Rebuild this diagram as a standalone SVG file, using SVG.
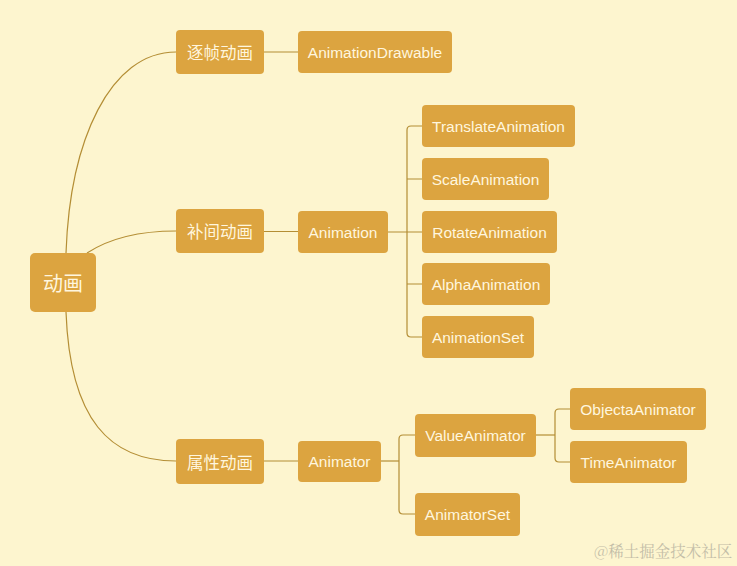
<svg xmlns="http://www.w3.org/2000/svg" width="737" height="566" viewBox="0 0 737 566">
<style>
.bg{fill:#FDF5CF}
.box{fill:#DCA440}
.t{fill:#FFF6DE;font-family:"Liberation Sans","Noto Sans CJK SC",sans-serif;font-size:15.5px;text-anchor:middle;dominant-baseline:central}
.cn{fill:#FFF6DE;font-family:"Noto Sans CJK SC",sans-serif;font-size:16.5px;text-anchor:middle;dominant-baseline:central}
.c{fill:none;stroke:#B48E35;stroke-width:1.2}
.wm{fill:#C4BEA8;font-family:"Noto Serif CJK SC","Noto Sans CJK SC",serif;font-size:15.5px}
</style>
<rect class="bg" x="0" y="0" width="737" height="566"/>
<g id="connectors">
<path class="c" d="M66,253 C70,140 110,52 176,52"/>
<path class="c" d="M87,253 C110,238 140,231 176,231"/>
<path class="c" d="M66,312 C70,420 110,461 176,461"/>
<path class="c" d="M264,52 H298"/>
<path class="c" d="M264,231.5 H298"/>
<path class="c" d="M388,232 H422"/>
<path class="c" d="M422,126 H411 Q407,126 407,130 V333 Q407,337 411,337 H422"/>
<path class="c" d="M407,179 H422 M407,284 H422"/>
<path class="c" d="M264,461 H298"/>
<path class="c" d="M381,461 H399"/>
<path class="c" d="M415,435 H403 Q399,435 399,439 V510 Q399,514 403,514 H415"/>
<path class="c" d="M536,435 H555"/>
<path class="c" d="M570,409 H559 Q555,409 555,413 V458 Q555,462 559,462 H570"/>
</g>
<g id="root"><rect class="box" x="30" y="253" width="66" height="59" rx="5"/><text class="cn" x="63" y="282.5" style="font-size:20px">动画</text></g>
<g id="n-zhuzhen"><rect class="box" x="176" y="30" width="88" height="44" rx="4"/><text class="cn" x="220" y="52">逐帧动画</text></g>
<g id="n-bujian"><rect class="box" x="176" y="209" width="88" height="44" rx="4"/><text class="cn" x="220" y="231">补间动画</text></g>
<g id="n-shuxing"><rect class="box" x="176" y="439" width="88" height="45" rx="4"/><text class="cn" x="220" y="461.5">属性动画</text></g>
<g id="n-animationdrawable"><rect class="box" x="298" y="31" width="154" height="42" rx="4"/><text class="t" x="375" y="52">AnimationDrawable</text></g>
<g id="n-animation"><rect class="box" x="298" y="211" width="90" height="42" rx="4"/><text class="t" x="343" y="232">Animation</text></g>
<g id="n-translate"><rect class="box" x="422" y="105" width="153" height="42" rx="4"/><text class="t" x="498.5" y="126">TranslateAnimation</text></g>
<g id="n-scale"><rect class="box" x="422" y="158" width="127" height="42" rx="4"/><text class="t" x="485.5" y="179">ScaleAnimation</text></g>
<g id="n-rotate"><rect class="box" x="422" y="211" width="135" height="42" rx="4"/><text class="t" x="489.5" y="232">RotateAnimation</text></g>
<g id="n-alpha"><rect class="box" x="422" y="263" width="128" height="42" rx="4"/><text class="t" x="486" y="284">AlphaAnimation</text></g>
<g id="n-animationset"><rect class="box" x="422" y="316" width="112" height="42" rx="4"/><text class="t" x="478" y="337">AnimationSet</text></g>
<g id="n-animator"><rect class="box" x="298" y="441" width="83" height="41" rx="4"/><text class="t" x="339.5" y="461.5">Animator</text></g>
<g id="n-valueanimator"><rect class="box" x="415" y="414" width="121" height="43" rx="4"/><text class="t" x="475.5" y="435.5">ValueAnimator</text></g>
<g id="n-animatorset"><rect class="box" x="415" y="493" width="105" height="43" rx="4"/><text class="t" x="467.5" y="514.5">AnimatorSet</text></g>
<g id="n-objecta"><rect class="box" x="570" y="388" width="136" height="42" rx="4"/><text class="t" x="638" y="409">ObjectaAnimator</text></g>
<g id="n-time"><rect class="box" x="570" y="441" width="117" height="42" rx="4"/><text class="t" x="628.5" y="462">TimeAnimator</text></g>
<text class="wm" x="594" y="557">@稀土掘金技术社区</text>
</svg>
